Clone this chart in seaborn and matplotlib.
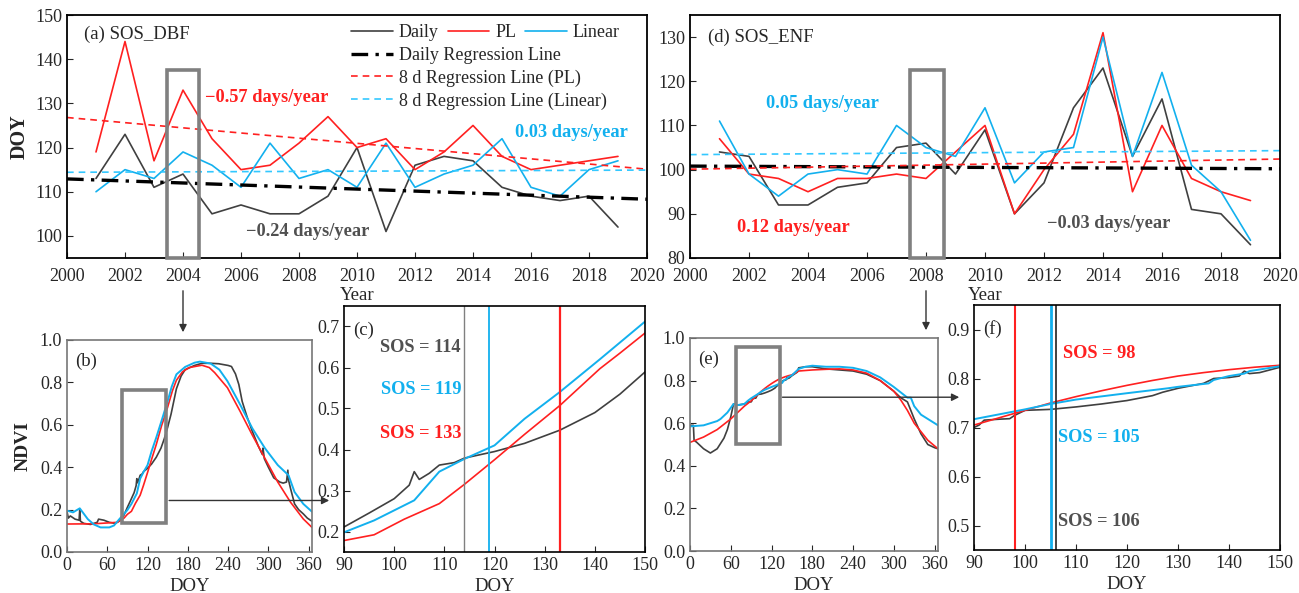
import numpy as np
import pandas as pd
import seaborn as sns
import matplotlib.pyplot as plt
from matplotlib.lines import Line2D
from matplotlib.patches import Rectangle, FancyArrowPatch

# ---- data: yearly SOS (DOY) ----
years = list(range(2001, 2020))
dbf_daily = [113, 123, 111, 114, 105, 107, 105, 105, 109, 120, 101, 116, 118, 117, 111, 109, 108, 109, 102]
dbf_pl = [119, 144, 117, 133, 122, 115, 116, 121, 127, 120, 122, 115, 119, 125, 118, 115, 116, 117, 118]
dbf_lin = [110, 115, 113, 119, 116, 111, 121, 113, 115, 111, 121, 111, 114, 116, 122, 111, 109, 115, 117]
enf_daily = [104, 103, 92, 92, 96, 97, 105, 106, 99, 109, 90, 97, 114, 123, 103, 116, 91, 90, 83]
enf_pl = [107, 99, 98, 95, 98, 98, 99, 98, 104, 110, 90, 100, 108, 131, 95, 110, 98, 95, 93]
enf_lin = [111, 99, 94, 99, 100, 99, 110, 105, 103, 114, 97, 104, 105, 130, 103, 122, 101, 95, 84]

# regression lines (end points)
reg_years = [2000, 2020]
reg_dbf_daily = [112.9, 108.3]
reg_dbf_pl = [126.8, 115.1]
reg_dbf_lin = [114.4, 114.9]
reg_enf_daily = [100.8, 100.2]
reg_enf_pl = [100.1, 102.4]
reg_enf_lin = [103.4, 104.3]

# ---- data: NDVI seasonal curves ----
dbf_daily_doy = [0, 2, 5, 12, 18, 19, 20, 25, 35, 45, 47, 55, 63, 72, 80, 85, 90, 95, 100, 103, 104, 105, 107,
                 109, 110, 112, 114, 120, 126, 133, 140, 145, 150, 155, 163, 170, 176, 190, 201, 215, 226, 240,
                 245, 251, 256, 261, 268, 276, 285, 291, 292, 294, 300, 308, 317, 322, 327, 329, 330, 333, 339,
                 345, 352, 358, 365]
dbf_daily_ndvi = [0.19, 0.16, 0.17, 0.155, 0.15, 0.20, 0.145, 0.135, 0.13, 0.14, 0.155, 0.15, 0.14, 0.135, 0.15,
                  0.175, 0.211, 0.245, 0.28, 0.313, 0.346, 0.327, 0.342, 0.362, 0.364, 0.368, 0.379, 0.395, 0.415,
                  0.447, 0.49, 0.535, 0.589, 0.65, 0.77, 0.83, 0.86, 0.88, 0.89, 0.89, 0.888, 0.88, 0.875, 0.84,
                  0.79, 0.71, 0.64, 0.57, 0.50, 0.46, 0.49, 0.44, 0.40, 0.35, 0.33, 0.325, 0.33, 0.386, 0.34, 0.30,
                  0.227, 0.20, 0.18, 0.16, 0.145]
dbf_lin_doy = [0, 9, 19, 31, 40, 50, 63, 70, 78, 85, 90, 96, 104, 109, 114, 120, 126, 133, 141, 150, 156, 163,
               176, 190, 198, 214, 227, 239, 258, 276, 295, 314, 330, 339, 352, 365]
dbf_lin_ndvi = [0.195, 0.187, 0.206, 0.155, 0.13, 0.116, 0.116, 0.125, 0.155, 0.18, 0.198, 0.227, 0.276, 0.346,
                0.377, 0.41, 0.475, 0.54, 0.62, 0.712, 0.78, 0.838, 0.873, 0.893, 0.898, 0.889, 0.86, 0.806, 0.695,
                0.584, 0.489, 0.41, 0.362, 0.283, 0.227, 0.19]
dbf_pl_doy = [0, 40, 75, 85, 90, 96, 102, 109, 114, 120, 126, 133, 141, 145, 150, 157, 163, 172, 182, 201, 212,
              220, 239, 258, 276, 295, 314, 333, 352, 365]
dbf_pl_ndvi = [0.132, 0.133, 0.14, 0.16, 0.178, 0.192, 0.23, 0.268, 0.315, 0.375, 0.437, 0.507, 0.597, 0.635,
               0.684, 0.76, 0.81, 0.85, 0.87, 0.881, 0.87, 0.846, 0.775, 0.663, 0.552, 0.441, 0.33, 0.235, 0.156,
               0.116]

enf_daily_doy = [0, 5, 6, 10, 20, 30, 40, 50, 55, 60, 64, 66, 70, 80, 85, 90, 91, 92, 95, 97, 98, 99, 100, 105,
                 110, 115, 120, 125, 127, 130, 135, 137, 140, 142, 143, 144, 146, 150, 158, 160, 170, 180, 190,
                 200, 220, 240, 260, 280, 290, 300, 310, 320, 325, 330, 340, 350, 360, 365]
enf_daily_ndvi = [0.59, 0.59, 0.52, 0.51, 0.48, 0.46, 0.48, 0.53, 0.57, 0.63, 0.69, 0.69, 0.685, 0.69, 0.70, 0.70,
                  0.705, 0.715, 0.717, 0.718, 0.725, 0.73, 0.735, 0.737, 0.742, 0.748, 0.755, 0.765, 0.772, 0.78,
                  0.79, 0.80, 0.802, 0.805, 0.815, 0.81, 0.812, 0.823, 0.84, 0.86, 0.865, 0.865, 0.86, 0.855, 0.85,
                  0.845, 0.83, 0.80, 0.775, 0.75, 0.72, 0.70, 0.66, 0.62, 0.55, 0.50, 0.485, 0.48]
enf_lin_doy = [0, 20, 40, 45, 55, 64, 70, 80, 85, 90, 100, 105, 110, 120, 128, 130, 136, 137, 140, 143, 144, 150,
               160, 170, 180, 200, 220, 240, 260, 280, 300, 320, 325, 330, 340, 350, 365]
enf_lin_ndvi = [0.585, 0.59, 0.61, 0.62, 0.65, 0.69, 0.685, 0.69, 0.705, 0.717, 0.737, 0.748, 0.757, 0.77, 0.78,
                0.783, 0.79, 0.797, 0.805, 0.81, 0.815, 0.825, 0.855, 0.865, 0.87, 0.865, 0.865, 0.86, 0.845,
                0.815, 0.77, 0.72, 0.72, 0.68, 0.64, 0.62, 0.59]
enf_pl_doy = [0, 20, 40, 60, 80, 90, 95, 100, 105, 110, 115, 120, 125, 130, 135, 140, 145, 150, 160, 180, 200,
              220, 240, 260, 280, 300, 310, 320, 330, 340, 350, 365]
enf_pl_ndvi = [0.51, 0.535, 0.57, 0.62, 0.68, 0.705, 0.72, 0.735, 0.75, 0.763, 0.775, 0.786, 0.796, 0.805, 0.812,
               0.818, 0.823, 0.827, 0.845, 0.85, 0.853, 0.855, 0.85, 0.835, 0.80, 0.75, 0.71, 0.66, 0.60, 0.56,
               0.52, 0.48]

# SOS of the example years (daily, linear, PL)
sos_dbf = [114, 119, 133]
sos_enf = [106, 105, 98]

# highlight boxes
box_dbf_year = [2003.45, 2004.55, 95, 137.5]
box_enf_year = [2007.45, 2008.6, 80, 122.5]
box_dbf_doy = [82, 148, 0.137, 0.765]
box_enf_doy = [68, 132, 0.503, 0.957]

C_DAILY = "#404040"
C_PL = "#ff2020"
C_LIN = "#12b0ee"
C_BOX = "#808080"

sns.set_style("ticks")
plt.rcParams['font.family'] = ['Liberation Serif', 'DejaVu Serif']
plt.rcParams['font.size'] = 13
plt.rcParams['xtick.direction'] = 'in'
plt.rcParams['ytick.direction'] = 'in'
plt.rcParams['xtick.major.size'] = 4
plt.rcParams['ytick.major.size'] = 4
plt.rcParams['xtick.labelsize'] = 13
plt.rcParams['ytick.labelsize'] = 13

W, H = 1299, 593
fig = plt.figure(figsize=(W / 100, H / 100), dpi=100)


def px_axes(l, t, r, b):
    return fig.add_axes([l / W, 1 - b / H, (r - l) / W, (b - t) / H])


ax_a = px_axes(67, 15, 647, 258)
ax_d = px_axes(690, 15, 1280, 258)
ax_b = px_axes(67, 340, 312, 552)
ax_c = px_axes(344, 306, 645, 552)
ax_e = px_axes(690, 338, 938, 551)
ax_f = px_axes(974, 305, 1280, 550)

reg_daily_ls = (0, (5, 2.2, 1, 2.2))
reg_8d_ls = (0, (4, 3))


def year_panel(ax, daily, pl, lin, rd, rp, rl, box, ylim, yticks):
    sns.lineplot(x=years, y=daily, ax=ax, color=C_DAILY, lw=1.2)
    sns.lineplot(x=years, y=pl, ax=ax, color=C_PL, lw=1.2)
    sns.lineplot(x=years, y=lin, ax=ax, color=C_LIN, lw=1.2)
    sns.lineplot(x=reg_years, y=rd, ax=ax, color="black", lw=2.4, linestyle=reg_daily_ls)
    sns.lineplot(x=reg_years, y=rp, ax=ax, color=C_PL, lw=1.2, linestyle=reg_8d_ls)
    sns.lineplot(x=reg_years, y=rl, ax=ax, color="#33c8ff", lw=1.2, linestyle=reg_8d_ls)
    ax.add_patch(Rectangle((box[0], box[2]), box[1] - box[0], box[3] - box[2], fill=False,
                           ec=C_BOX, lw=2.6, zorder=5, clip_on=False))
    ax.set_xlim(2000, 2020)
    ax.set_xticks(range(2000, 2021, 2))
    ax.set_ylim(*ylim)
    ax.set_yticks(yticks)
    ax.tick_params(axis="x", pad=7)
    ax.set_xlabel("Year", fontsize=13.5, labelpad=2)
    for s in ax.spines.values():
        s.set_linewidth(1.3)
        s.set_color("black")


year_panel(ax_a, dbf_daily, dbf_pl, dbf_lin, reg_dbf_daily, reg_dbf_pl, reg_dbf_lin,
           box_dbf_year, (95, 150), range(100, 151, 10))
year_panel(ax_d, enf_daily, enf_pl, enf_lin, reg_enf_daily, reg_enf_pl, reg_enf_lin,
           box_enf_year, (80, 135), range(80, 131, 10))
ax_a.set_ylabel("DOY", fontsize=14.5, fontweight="bold", labelpad=4)
ax_d.set_ylabel("")

ax_a.text(2000.6, 145.7, "(a) SOS_DBF", fontsize=13.5, va="center")
ax_d.text(2000.6, 130.0, "(d) SOS_ENF", fontsize=13.5, va="center")
bold = dict(fontsize=13.2, fontweight="bold", ha="center", va="center")
ax_a.text(2006.9, 131.4, "\u22120.57 days/year", color=C_PL, **bold)
ax_a.text(2017.4, 123.3, "0.03 days/year", color=C_LIN, **bold)
ax_a.text(2008.3, 101.1, "\u22120.24 days/year", color="#505050", **bold)
ax_d.text(2004.5, 114.9, "0.05 days/year", color=C_LIN, **bold)
ax_d.text(2003.5, 86.8, "0.12 days/year", color=C_PL, **bold)
ax_d.text(2014.2, 87.9, "\u22120.03 days/year", color="#505050", **bold)

# legend in (a)
h1 = [Line2D([], [], color=C_DAILY, lw=1.2), Line2D([], [], color=C_PL, lw=1.2),
      Line2D([], [], color=C_LIN, lw=1.2)]
leg1 = ax_a.legend(h1, ["Daily", "PL", "Linear"], ncol=3, loc="upper left", bbox_to_anchor=(0.49, 0.962),
                   frameon=False, borderpad=0, borderaxespad=0, handlelength=2.3, handletextpad=0.33,
                   columnspacing=0.5, fontsize=13)
ax_a.add_artist(leg1)
h2 = [Line2D([], [], color="black", lw=2.4, linestyle=reg_daily_ls),
      Line2D([], [], color=C_PL, lw=1.2, linestyle=reg_8d_ls),
      Line2D([], [], color="#33c8ff", lw=1.2, linestyle=reg_8d_ls)]
ax_a.legend(h2, ["Daily Regression Line", "8 d Regression Line (PL)", "8 d Regression Line (Linear)"],
            loc="upper left", bbox_to_anchor=(0.49, 0.868), frameon=False, borderpad=0, borderaxespad=0,
            handlelength=2.3, handletextpad=0.33, labelspacing=0.3, fontsize=13)


def ndvi_lines(ax, d_doy, d_v, l_doy, l_v, p_doy, p_v):
    sns.lineplot(x=d_doy, y=d_v, ax=ax, color=C_DAILY, lw=1.2, sort=False, estimator=None)
    sns.lineplot(x=p_doy, y=p_v, ax=ax, color=C_PL, lw=1.2, sort=False, estimator=None)
    sns.lineplot(x=l_doy, y=l_v, ax=ax, color=C_LIN, lw=1.4, sort=False, estimator=None)


# (b) and (e): whole season
for ax, data, box, lab in [(ax_b, (dbf_daily_doy, dbf_daily_ndvi, dbf_lin_doy, dbf_lin_ndvi, dbf_pl_doy, dbf_pl_ndvi),
                            box_dbf_doy, "(b)"),
                           (ax_e, (enf_daily_doy, enf_daily_ndvi, enf_lin_doy, enf_lin_ndvi, enf_pl_doy, enf_pl_ndvi),
                            box_enf_doy, "(e)")]:
    ndvi_lines(ax, *data)
    ax.add_patch(Rectangle((box[0], box[2]), box[1] - box[0], box[3] - box[2], fill=False,
                           ec=C_BOX, lw=2.6, zorder=5))
    ax.set_xlim(0, 365)
    ax.set_xticks(range(0, 361, 60))
    ax.set_ylim(0, 1)
    ax.set_yticks(np.arange(0, 1.01, 0.2))
    ax.yaxis.set_major_formatter(plt.FormatStrFormatter("%.1f"))
    ax.set_xlabel("DOY", fontsize=13.5, labelpad=3)
    ax.text(12, 0.90, lab, fontsize=13.5, va="center")
    for s in ax.spines.values():
        s.set_color("#777777")
        s.set_linewidth(1.2)
ax_b.set_ylabel("NDVI", fontsize=14, fontweight="bold", labelpad=6)
ax_e.set_ylabel("")

# (c) and (f): zoom on spring
for ax, data, sos, ylim, yt, lab in [
        (ax_c, (dbf_daily_doy, dbf_daily_ndvi, dbf_lin_doy, dbf_lin_ndvi, dbf_pl_doy, dbf_pl_ndvi),
         sos_dbf, (0.15, 0.75), np.arange(0.2, 0.71, 0.1), "(c)"),
        (ax_f, (enf_daily_doy, enf_daily_ndvi, enf_lin_doy, enf_lin_ndvi, enf_pl_doy, enf_pl_ndvi),
         sos_enf, (0.45, 0.95), np.arange(0.5, 0.91, 0.1), "(f)")]:
    ndvi_lines(ax, *data)
    ax.set_xlim(90, 150)
    ax.set_xticks(range(90, 151, 10))
    ax.set_ylim(*ylim)
    ax.set_yticks(yt)
    ax.yaxis.set_major_formatter(plt.FormatStrFormatter("%.1f"))
    ax.set_xlabel("DOY", fontsize=13.5, labelpad=3)
    ax.set_ylabel("")
    ax.text(91.8, ylim[0] + 0.9 * (ylim[1] - ylim[0]), lab, fontsize=13.5, va="center")
    for s in ax.spines.values():
        s.set_color("black")
        s.set_linewidth(1.2)

ax_c.axvline(sos_dbf[0], color="#808080", lw=1.0)
ax_c.axvline(sos_dbf[1], color=C_LIN, lw=1.3)
ax_c.axvline(sos_dbf[2], color=C_PL, lw=1.6)
ax_c.text(105.3, 0.649, "SOS = %d" % sos_dbf[0], color="#505050", **bold)
ax_c.text(105.3, 0.546, "SOS = %d" % sos_dbf[1], color=C_LIN, **bold)
ax_c.text(105.3, 0.439, "SOS = %d" % sos_dbf[2], color=C_PL, **bold)

ax_f.axvline(sos_enf[2], color=C_PL, lw=1.5)
ax_f.axvline(sos_enf[1], color=C_LIN, lw=2.0)
ax_f.axvline(sos_enf[0], color="#333333", lw=1.3)
ax_f.text(114.5, 0.851, "SOS = %d" % sos_enf[2], color=C_PL, **bold)
ax_f.text(114.5, 0.680, "SOS = %d" % sos_enf[1], color=C_LIN, **bold)
ax_f.text(114.5, 0.508, "SOS = %d" % sos_enf[0], color="#505050", **bold)

# connecting arrows
inv = fig.transFigure.inverted()


def fig_arrow(p0, p1):
    a = FancyArrowPatch(inv.transform(p0), inv.transform(p1), transform=fig.transFigure,
                        arrowstyle="-|>", mutation_scale=11, lw=1.0, color="#333333")
    fig.add_artist(a)


for ax_top, ax_bot, yr, ybot in [(ax_a, ax_b, 2004, 95), (ax_d, ax_e, 2008, 80)]:
    x0, y0 = ax_top.transData.transform((yr, ybot))
    yb = ax_bot.transAxes.transform((0, 1))[1]
    fig_arrow((x0, y0 - 30), (x0, yb + 5))

for ax_s, ax_t, box, yv in [(ax_b, ax_c, box_dbf_doy, 0.243), (ax_e, ax_f, box_enf_doy, 0.722)]:
    x0, y0 = ax_s.transData.transform((box[1], yv))
    xt = ax_t.transAxes.transform((0, 0))[0]
    fig_arrow((x0, y0), (xt - 12, y0))

fig.savefig("out.png", dpi=100)
